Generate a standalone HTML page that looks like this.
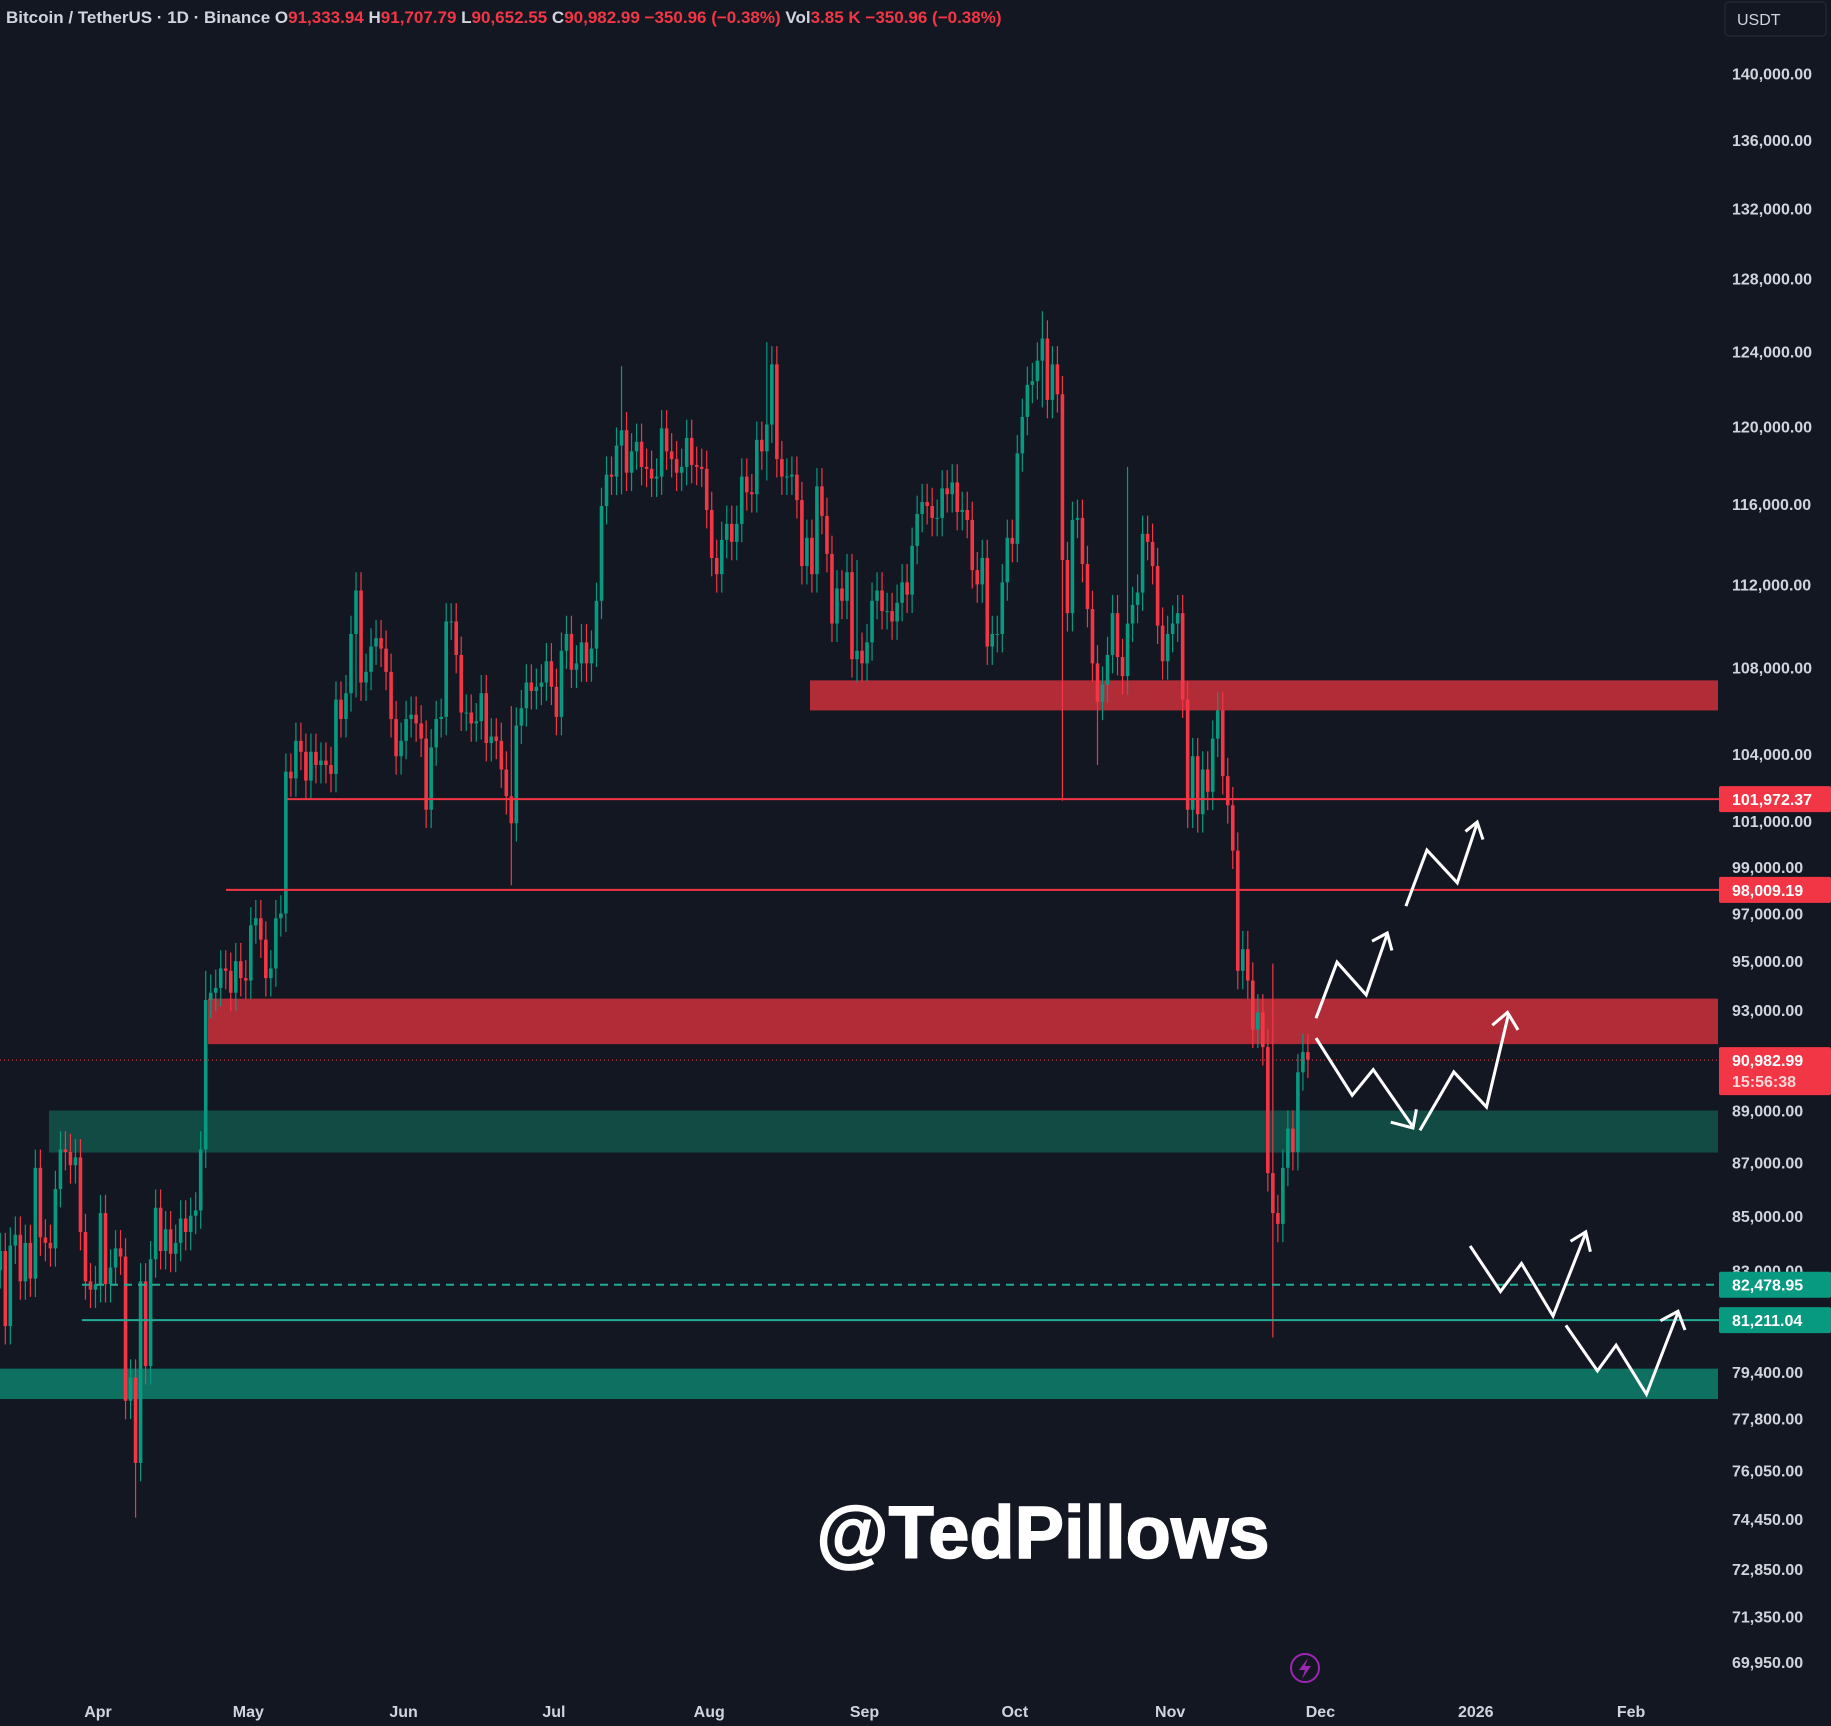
<!DOCTYPE html>
<html><head><meta charset="utf-8"><style>
html,body{margin:0;padding:0;background:#131722;}
svg{display:block;}
</style></head><body>
<svg id="chart" width="1831" height="1726" viewBox="0 0 1831 1726" xmlns="http://www.w3.org/2000/svg" font-family="Liberation Sans, DejaVu Sans, sans-serif">
<rect width="1831" height="1726" fill="#131722"/>
<g id="zones"></g>
<g id="candles"></g>
<g id="levels"></g>
<g id="arrows" transform="scale(1.1677)" fill="none" stroke="#ffffff" stroke-width="2.6" stroke-linejoin="miter">
 <polyline points="1127,872 1145,824 1170,852 1188,800"/>
 <polyline points="1175,806 1188,799 1192,814"/>
 <polyline points="1204,776 1222,728 1248,756 1265,705"/>
 <polyline points="1255,712 1265,704 1270,719"/>
 <polyline points="1127,889 1158,938 1176,916 1210,965"/>
 <polyline points="1191,961 1210,966 1213,950"/>
 <polyline points="1216,968 1245,918 1273,948 1292,868"/>
 <polyline points="1278,878 1291,867 1300,882"/>
 <polyline points="1259,1067 1285,1106 1303,1082 1330,1127 1358,1056"/>
 <polyline points="1345,1063 1358,1055 1362,1072"/>
 <polyline points="1341,1135 1368,1174 1384,1152 1410,1194 1437,1124"/>
 <polyline points="1422,1131 1437,1123 1443,1139"/>
</g>
<text x="1043" y="1558" text-anchor="middle" font-size="74" font-weight="bold" fill="#ffffff" stroke="#ffffff" stroke-width="1.5">@TedPillows</text>
<g id="axis"></g>
<g font-size="17" font-weight="bold" font-family="Liberation Sans, DejaVu Sans, sans-serif">
 <text x="6" y="23" fill="#d1d4dc">Bitcoin / TetherUS · 1D · Binance <tspan fill="#d1d4dc">O</tspan><tspan fill="#f23645">91,333.94</tspan> <tspan fill="#d1d4dc">H</tspan><tspan fill="#f23645">91,707.79</tspan> <tspan fill="#d1d4dc">L</tspan><tspan fill="#f23645">90,652.55</tspan> <tspan fill="#d1d4dc">C</tspan><tspan fill="#f23645">90,982.99  −350.96 (−0.38%)</tspan>  <tspan fill="#d1d4dc">Vol</tspan><tspan fill="#f23645">3.85 K  −350.96 (−0.38%)</tspan></text>
</g>
<g>
 <rect x="1725" y="2" width="101" height="34" rx="4" fill="#131722" stroke="#2a2e39"/>
 <text x="1737" y="25" font-size="16" fill="#d1d4dc">USDT</text>
</g>
<g>
 <circle cx="1305" cy="1668" r="14" fill="none" stroke="#9c27b0" stroke-width="2"/>
 <path d="M1308 1658 L1299 1670 L1305 1670 L1302 1679 L1311 1666 L1305 1666 Z" fill="#9c27b0"/>
</g>
</svg>
<script>
const closes=[83.7,81.0,83.9,84.3,82.6,84.0,82.7,86.8,84.2,84.0,83.8,86.0,87.5,87.4,86.9,87.2,84.4,82.6,82.3,82.5,
85.1,82.5,83.1,83.8,83.5,78.4,79.2,76.3,82.6,79.6,83.4,85.3,83.7,84.5,83.6,84.0,84.9,84.4,85.0,85.2,87.5,93.4,93.7,93.9,94.7,94.6,93.7,95.0,94.3,94.2,
96.5,96.8,95.9,94.3,94.7,96.8,97.0,103.2,102.9,104.6,104.1,102.8,104.1,103.5,103.7,103.5,103.1,106.5,105.6,106.8,109.6,111.7,107.3,107.8,109.0,109.4,108.9,107.8,105.6,103.9,104.6,
105.6,105.8,105.4,104.7,101.5,104.3,105.6,105.7,110.2,110.2,108.6,105.9,105.9,105.4,105.5,106.8,104.5,104.8,104.6,103.3,102.1,100.9,105.3,106.1,107.3,106.9,107.1,107.3,108.3,107.1,
105.7,108.8,109.6,107.9,108.2,109.2,108.2,108.9,111.2,115.9,117.5,117.4,119.0,119.8,117.6,118.7,119.2,117.9,117.8,117.3,117.4,119.9,118.7,118.3,117.6,117.9,119.4,118.0,117.9,117.8,115.7,
113.3,112.5,114.2,115.0,114.1,115.0,117.4,116.6,116.5,119.3,118.7,120.1,123.3,118.3,117.4,117.4,117.5,116.2,112.9,114.3,112.5,116.9,115.4,113.5,110.1,111.8,111.2,112.6,108.4,108.8,108.2,
109.2,111.2,111.7,110.7,110.7,110.2,111.1,112.1,111.5,113.9,115.5,116.1,115.9,115.3,115.3,116.8,116.5,117.1,115.6,115.7,115.2,112.7,112.0,113.3,109.0,109.6,109.6,112.1,114.3,114.0,
118.6,120.5,122.2,122.4,123.5,124.7,121.4,123.3,121.7,113.2,110.6,115.2,115.3,113.0,110.8,108.2,106.4,107.2,108.6,110.6,108.5,107.6,110.1,111.0,111.6,114.5,114.1,112.9,110.0,108.3,109.6,
110.1,110.6,106.5,101.5,103.9,101.3,103.3,102.3,104.7,106.0,103.0,101.7,99.7,94.6,95.5,94.2,92.2,92.9,91.5,86.6,85.1,84.7,86.8,88.3,87.4,90.5,91.3,91.0];
const firstOpen=83.0;
const wickDays=[27,41,71,102,124,153,208,212,219,254,225,171];
const wickHighs=[79.5,94.6,112.0,106.2,123.2,124.5,126.2,122.0,107.5,94.9,117.9,113.2];
const wickLows=[74.5,87.4,106.6,98.2,116.5,117.2,121.0,101.9,103.5,80.6,111.2,107.3];
const priceTicks=[140000,136000,132000,128000,124000,120000,116000,112000,108000,104000,101000,99000,97000,95000,93000,89000,87000,85000,83000,79400,77800,76050,74450,72850,71350,69950];
const monthLabels=["Apr","May","Jun","Jul","Aug","Sep","Oct","Nov","Dec","2026","Feb"];
const monthDays=[20,50,81,111,142,173,203,234,264,295,326];

const NS="http://www.w3.org/2000/svg";
const PX_DAY=5.01, X0=98-20*5.01;
function xOf(i){return X0+i*PX_DAY+2.5;}
function yOf(p){return 73.6+Math.log(140000/p)*2289;}
function mk(tag,attrs,parent){const e=document.createElementNS(NS,tag);for(const k in attrs)e.setAttribute(k,attrs[k]);parent.appendChild(e);return e;}
const fmt=v=>v.toLocaleString('en-US',{minimumFractionDigits:2,maximumFractionDigits:2});

const zg=document.getElementById('zones');
function zone(name,x1,pTop,pBot,color){
 const r=mk('rect',{x:x1,y:yOf(pTop),width:1718-x1,height:yOf(pBot)-yOf(pTop),fill:color},zg);
 
 
}
zone('resistance-zone-107k',810,107400,106000,'#b22c38');
zone('resistance-zone-93k',208,93460,91620,'#b22c38');
zone('support-zone-88k',49,89000,87380,'#124a44');
zone('support-zone-79k',0,79510,78460,'#0d7060');

const cg=document.getElementById('candles');
let prev=firstOpen;
closes.forEach((c,i)=>{
 const o=prev; prev=c;
 let hi=Math.max(o,c)*1.008, lo=Math.min(o,c)*0.992;
 const w=wickDays.indexOf(i);
 if(w>=0){hi=Math.max(hi,wickHighs[w]);lo=Math.min(lo,wickLows[w]);}
 const col=c>=o?'#089981':'#f23645';
 const x=xOf(i);
 const g=mk('g',{},cg);
 
 
 mk('line',{x1:x,x2:x,y1:yOf(hi*1000),y2:yOf(lo*1000),stroke:col,'stroke-width':1.2},g);
 const yt=yOf(Math.max(o,c)*1000), yb=yOf(Math.min(o,c)*1000);
 mk('rect',{x:x-1.8,y:yt,width:3.6,height:Math.max(1,yb-yt),fill:col},g);
});

const lg=document.getElementById('levels');
function level(name,x1,p,color,dash,w){
 const l=mk('line',{x1:x1,x2:1719,y1:yOf(p),y2:yOf(p),stroke:color,'stroke-width':w},lg);
 if(dash)l.setAttribute('stroke-dasharray',dash);
 
 
}
level('resistance-line-101972',287,101972.37,'#f23645',null,2);
level('resistance-line-98009',226,98009.19,'#f23645',null,2);
level('current-price-line',0,90982.99,'#f23645','1 3',1);
level('support-line-82479',82,82478.95,'#22ab94','8 6',2);
level('support-line-81211',82,81211.04,'#22ab94',null,2);

const ag=document.getElementById('axis');
priceTicks.forEach(p=>{
 const t=mk('text',{x:1732,y:yOf(p)+6,'font-size':16,'font-weight':'bold',fill:'#d1d4dc'},ag);
 t.textContent=fmt(p);
 
 
});
monthLabels.forEach((m,i)=>{
 const t=mk('text',{x:X0+monthDays[i]*PX_DAY,y:1717,'font-size':16,'font-weight':'bold',fill:'#d1d4dc','text-anchor':'middle'},ag);
 t.textContent=m;
 
 
});
function tag(name,p,color,extra){
 const y=yOf(p);
 const h=extra?48:26, top=y-13;
 const g=mk('g',{},ag);
 
 
 mk('rect',{x:1719,y:top,width:112,height:h,rx:2,fill:color},g);
 const t=mk('text',{x:1732,y:y+6,'font-size':16,'font-weight':'bold',fill:'#ffffff'},g);
 t.textContent=fmt(p);
 if(extra){const t2=mk('text',{x:1732,y:y+27,'font-size':16,'font-weight':'bold',fill:'#ffd6d9'},g);t2.textContent=extra;}
}
tag('price-label-101972',101972.37,'#f23645');
tag('price-label-98009',98009.19,'#f23645');
tag('current-price-label',90982.99,'#f23645','15:56:38');
tag('price-label-82479',82478.95,'#089981');
tag('price-label-81211',81211.04,'#089981');
</script>
</body></html>
